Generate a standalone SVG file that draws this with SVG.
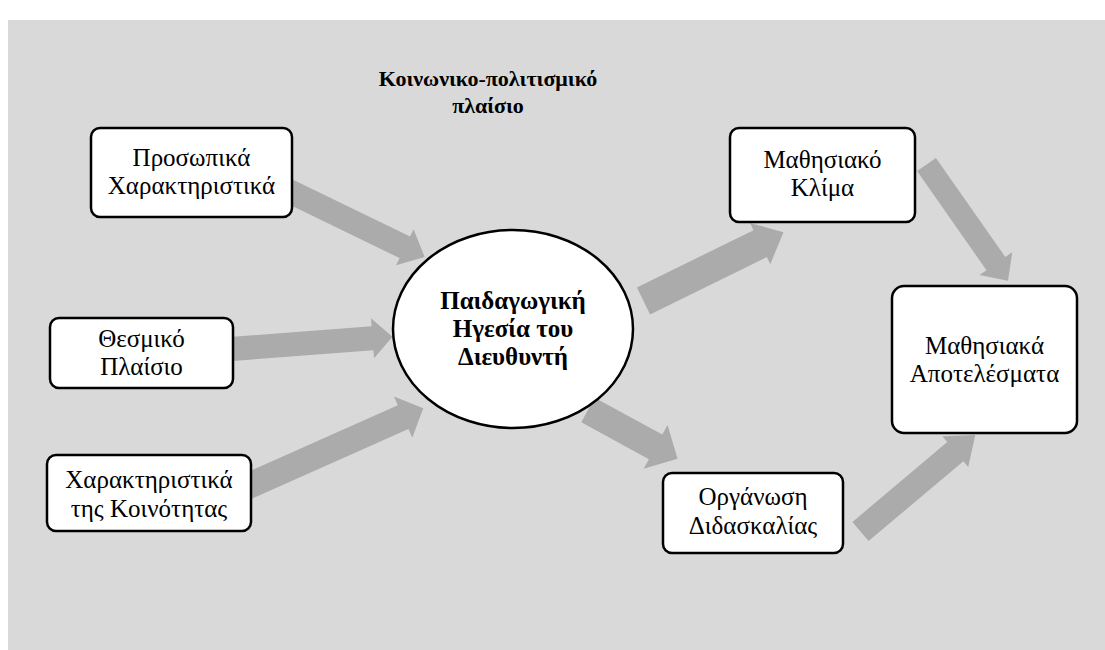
<svg xmlns="http://www.w3.org/2000/svg" width="1105" height="650" viewBox="0 0 1105 650">
<style>
.bg{fill:#d9d9d9}
.arr{fill:#ababab}
.box{fill:#fff;stroke:#000;stroke-width:2.5}
.t{font-family:"Liberation Serif","Times New Roman","DejaVu Serif",serif;font-size:25px;fill:#000;text-anchor:middle}
.b{font-weight:bold}
.c{font-size:25px}
.h{font-size:22px}
</style>
<rect class="bg" x="8" y="20" width="1097" height="630"/>
<g id="title">
<text class="t b h" x="488" y="86">Κοινωνικο-πολιτισμικό</text>
<text class="t b h" x="488" y="113">πλαίσιο</text>
</g>
<g id="connectors">
<polygon class="arr" transform="translate(260,177) rotate(25.9)" points="0,-12 161,-12 161,-20 183,0 161,20 161,12 0,12"/>
<polygon class="arr" transform="translate(205,351) rotate(-4.35)" points="0,-12 168,-12 168,-20 188,0 168,20 168,12 0,12"/>
<polygon class="arr" transform="translate(172,520) rotate(-24)" points="0,-13 253,-13 253,-22.5 275,0 253,22.5 253,13 0,13"/>
<polygon class="arr" transform="translate(643.5,301) rotate(-26.2)" points="0,-15 130,-15 130,-23 156,0 130,23 130,15 0,15"/>
<polygon class="arr" transform="translate(926.5,164.5) rotate(55)" points="0,-11.5 121,-11.5 121,-20 142,0 121,20 121,11.5 0,11.5"/>
<polygon class="arr" transform="translate(588,410) rotate(28.6)" points="0,-14 77,-14 77,-25 102,0 77,25 77,14 0,14"/>
<polygon class="arr" transform="translate(860.5,531.5) rotate(-40.1)" points="0,-12.5 124,-12.5 124,-20 150,0 124,20 124,12.5 0,12.5"/>
</g>
<g id="n-prosopika">
<rect class="box" x="91" y="128" width="201" height="89" rx="9"/>
<text class="t" x="191.5" y="166">Προσωπικά</text>
<text class="t" x="191.5" y="194">Χαρακτηριστικά</text>
</g>
<g id="n-thesmiko">
<rect class="box" x="50" y="318" width="183" height="70" rx="9"/>
<text class="t" x="141.5" y="347">Θεσμικό</text>
<text class="t" x="141.5" y="375">Πλαίσιο</text>
</g>
<g id="n-koinotita">
<rect class="box" x="47" y="455" width="204" height="76" rx="9"/>
<text class="t" x="149" y="488">Χαρακτηριστικά</text>
<text class="t" x="149" y="517">της Κοινότητας</text>
</g>
<g id="n-igesia">
<ellipse class="box" cx="513" cy="329" rx="120" ry="99"/>
<text class="t b c" x="513" y="309">Παιδαγωγική</text>
<text class="t b c" x="513" y="337">Ηγεσία του</text>
<text class="t b c" x="513" y="365">Διευθυντή</text>
</g>
<g id="n-klima">
<rect class="box" x="730" y="128" width="185" height="94" rx="9"/>
<text class="t" x="822.5" y="168">Μαθησιακό</text>
<text class="t" x="822.5" y="196">Κλίμα</text>
</g>
<g id="n-apotelesmata">
<rect class="box" x="892" y="286" width="185" height="147" rx="12"/>
<text class="t" x="984.5" y="354">Μαθησιακά</text>
<text class="t" x="984.5" y="382">Αποτελέσματα</text>
</g>
<g id="n-organosi">
<rect class="box" x="663" y="473" width="180" height="80" rx="9"/>
<text class="t" x="753" y="505">Οργάνωση</text>
<text class="t" x="753" y="534">Διδασκαλίας</text>
</g>
</svg>
